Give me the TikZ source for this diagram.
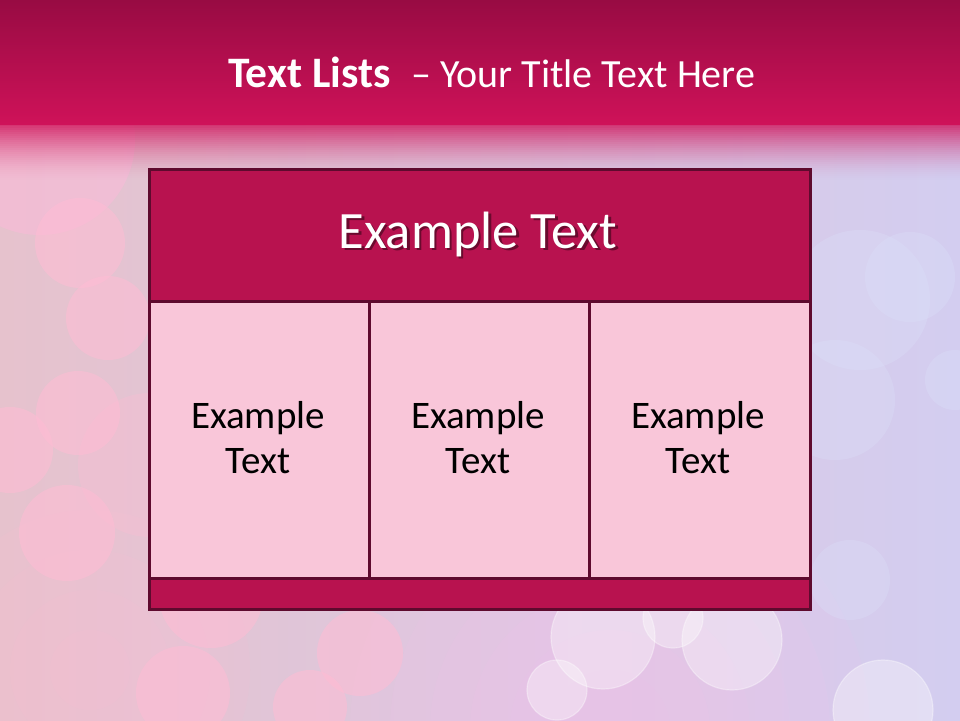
\documentclass[tikz,border=0pt]{standalone}
\usepackage{fontspec}
\setmainfont{Carlito}
\definecolor{bandtop}{HTML}{980B43}
\definecolor{bandbot}{HTML}{CF1259}
\definecolor{bgleft}{HTML}{E6C2CD}
\definecolor{bgright}{HTML}{D3CDF0}
\definecolor{hdrfill}{HTML}{B8124F}
\definecolor{cellfill}{HTML}{F9C6D9}
\definecolor{edge}{HTML}{5E0A2E}
\definecolor{bokpink}{HTML}{FFBCD4}
\definecolor{boklav}{HTML}{DCE2FA}
\definecolor{glow}{HTML}{F4C2EE}
\tikzset{
  bokeh/.style={fill=bokpink, fill opacity=0.55},
  bokehw/.style={fill=white, fill opacity=0.35, draw=white, draw opacity=0.35, line width=1.2pt},
  bokehl/.style={fill=boklav, fill opacity=0.3},
  boxpart/.style={draw=edge, line width=2.6pt},
  celltxt/.style={font=\fontsize{39}{45}\selectfont, text=black, align=center},
}
\begin{document}
\begin{tikzpicture}[x=1pt, y=-1pt]
\useasboundingbox (0,0) rectangle (960,720);
% background
\shade[left color=bgleft, right color=bgright] (0,0) rectangle (960,720);
\foreach \r in {60,100,...,260} {\fill[glow, fill opacity=0.12] (610,730) circle (\r);}
\foreach \r in {40,80,...,160} {\fill[bokpink, fill opacity=0.12] (90,670) circle (\r);}
% bokeh circles
\fill[fill=pink!80!magenta!70, fill opacity=0.45] (40,140) circle (95);
\fill[bokpink, fill opacity=0.3] (150,465) circle (72);
\fill[bokeh] (80,243) circle (45);
\fill[bokeh] (108,318) circle (42);
\fill[bokeh] (10,450) circle (43);
\fill[bokeh] (78,413) circle (42);
\fill[bokeh] (67,533) circle (48);
\fill[bokeh] (211,596) circle (52);
\fill[bokeh] (183,693) circle (47);
\fill[bokeh] (360,653) circle (43);
\fill[bokeh] (310,707) circle (37);
\fill[bokehw] (603,637) circle (52);
\fill[bokehw] (673,618) circle (30);
\fill[bokehw] (732,640) circle (50);
\fill[bokehw] (557,690) circle (30);
\fill[bokehw] (883,710) circle (50);
\fill[bokehl] (850,580) circle (40);
\fill[bokehl] (860,300) circle (70);
\fill[bokehl] (910,277) circle (45);
\fill[bokehl] (835,400) circle (60);
\fill[bokehl] (955,380) circle (30);
% title band
\shade[top color=bandtop, bottom color=bandbot] (0,0) rectangle (960,124.5);
\foreach \i in {0,...,27} {
  \pgfmathsetmacro\op{0.8*(1-\i/28)^1.6}
  \fill[bandbot, fill opacity=\op] (0,124+2*\i) rectangle (960,126+2*\i);
}
\node[text=white, anchor=base west, inner sep=0pt, font=\fontsize{43.5}{50}\selectfont\bfseries] (title) at (228,87) {Text Lists};
\node[text=white, anchor=base west, inner sep=0pt, font=\fontsize{40}{50}\selectfont] (subtitle) at (411,87) {– Your Title Text Here};
% table
\node[boxpart, fill=hdrfill, minimum width=661pt, minimum height=132pt, inner sep=0pt, anchor=north west] (hdr) at (148,168) {};
\node[text=black!70!hdrfill, opacity=0.6, font=\fontsize{52.5}{60}\selectfont, anchor=base] (hdrshadow) at (480.5,250.5) {Example Text};
\node[text=white, font=\fontsize{52.5}{60}\selectfont, anchor=base] (hdrtxt) at (478,248) {Example Text};
\node[boxpart, fill=cellfill, minimum width=220pt, minimum height=277pt, inner sep=0pt, anchor=north west] (c1) at (148,300) {};
\node[boxpart, fill=cellfill, minimum width=220pt, minimum height=277pt, inner sep=0pt, anchor=north west] (c2) at (368,300) {};
\node[boxpart, fill=cellfill, minimum width=221pt, minimum height=277pt, inner sep=0pt, anchor=north west] (c3) at (588,300) {};
\node[boxpart, fill=hdrfill, minimum width=661pt, minimum height=31pt, inner sep=0pt, anchor=north west] (ftr) at (148,577) {};
\node[celltxt] (t1) at (258,438) {Example\\Text};
\node[celltxt] (t2) at (478,438) {Example\\Text};
\node[celltxt] (t3) at (698,438) {Example\\Text};
\end{tikzpicture}
\end{document}
